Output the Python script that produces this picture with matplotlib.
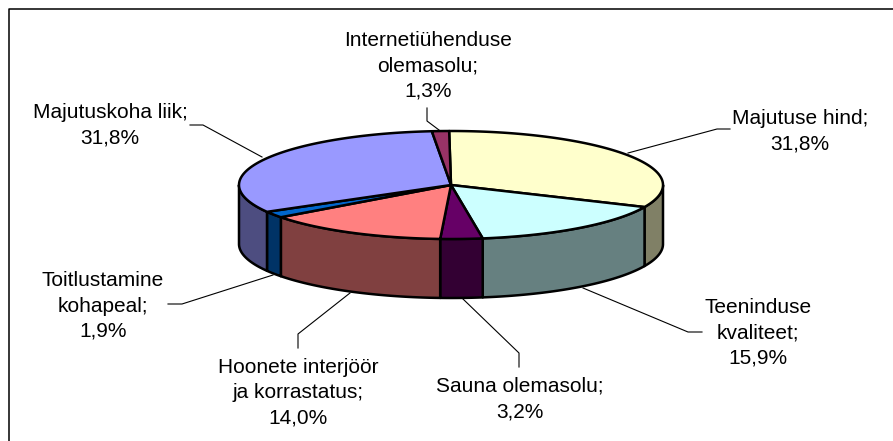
import numpy as np
import matplotlib
matplotlib.use("Agg")
import matplotlib.pyplot as plt
from matplotlib.patches import Polygon

plt.rcParams['font.family'] = ['Liberation Sans', 'DejaVu Sans']

labels = ["Majutuse hind", "Teeninduse\nkvaliteet", "Sauna olemasolu",
          "Hoonete interjöör\nja korrastatus", "Toitlustamine\nkohapeal",
          "Majutuskoha liik", "Internetiühenduse\nolemasolu"]
values = [31.8, 15.9, 3.2, 14.0, 1.9, 31.8, 1.3]
colors_top = ["#FFFFCC", "#CCFFFF", "#660066", "#FF8080", "#0066CC", "#9999FF", "#993366"]
colors_side = ["#808066", "#668080", "#330033", "#804040", "#003366", "#4D4D80", "#4D1A33"]

# label position (center x, center y of the text block) and leader line, in pixels
label_pos = [(800, 131), (758, 333), (520, 399), (298, 393), (103, 306), (110, 125), (428, 66)]
leaders = [
    [(628, 153), (717, 129), (730, 129)],
    [(583, 288), (688, 332), (702, 332)],
    [(463, 299), (519, 353), (519, 367)],
    [(350, 293), (298, 334), (298, 348)],
    [(273, 275), (182, 304), (168, 304)],
    [(262, 157), (203, 125), (190, 125)],
    [(439, 130), (427, 121), (427, 108)],
]

CX, CY = 451, 185
RX, RY = 212, 54
DEPTH = 59
START_ANGLE = 90.5
LW = 1.8


def arc_xy(t1, t2):
    # t1, t2 in degrees, clockwise from t1 to t2
    ts = np.radians(np.linspace(t1, t2, 120))
    return np.column_stack((CX + RX * np.cos(ts), CY - RY * np.sin(ts)))


fig = plt.figure(figsize=(8.93, 4.41), dpi=100)
ax = fig.add_axes([0, 0, 1, 1])
ax.set_xlim(0, 893)
ax.set_ylim(441, 0)
ax.axis("off")

# chart frame, cut by the picture on right and bottom
ax.plot([9, 9, 893], [441, 8.5, 8.5], color="black", lw=1.1, zorder=1)

shares = np.array(values) / sum(values) * 360
ends = START_ANGLE - np.cumsum(shares)
starts = ends + shares

# side walls, only the part on the front half of the ellipse
for t1, t2, c in zip(starts, ends, colors_side):
    lo, hi = max(t2, -180), min(t1, 0)
    if lo >= hi:
        continue
    top = arc_xy(hi, lo)
    bottom = top[::-1] + np.array([0, DEPTH])
    ax.add_patch(Polygon(np.vstack((top, bottom)), closed=True, fc=c, ec="black",
                         lw=LW, joinstyle="round", zorder=2))

# top faces
for t1, t2, c in zip(starts, ends, colors_top):
    pts = np.vstack(([(CX, CY)], arc_xy(t1, t2)))
    ax.add_patch(Polygon(pts, closed=True, fc=c, ec="black", lw=LW,
                         joinstyle="round", zorder=3))

for name, val, pos, line in zip(labels, values, label_pos, leaders):
    xs, ys = zip(*line)
    ax.plot(xs, ys, color="black", lw=0.8, zorder=1)
    ax.text(pos[0], pos[1], f"{name};\n{val:.1f}%".replace(".", ","),
            ha="center", va="center", fontsize=15, linespacing=1.42,
            color="black", zorder=4)

fig.savefig("out.png", dpi=100)
